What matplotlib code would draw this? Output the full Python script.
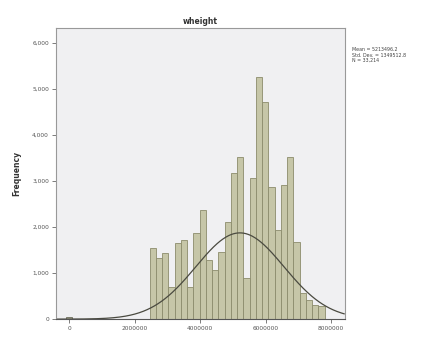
import numpy as np
import matplotlib
matplotlib.use("Agg")
import matplotlib.pyplot as plt

# ---- data ----
bin_start = 2455000.0
bin_width = 191000.0
counts = [1550, 1330, 1440, 700, 1650, 1720, 700, 1870, 2380, 1290,
          1070, 1460, 2110, 3180, 3530, 900, 3070, 5270, 4730, 2880,
          1940, 2920, 3530, 1680, 570, 410, 300, 280]
zero_count = 40
curve_mean = 5213496.2
curve_sd = 1349512.8
curve_n = 33214
x_ticks = [0, 2000000, 4000000, 6000000, 8000000]
y_ticks = [0, 1000, 2000, 3000, 4000, 5000, 6000]
y_tick_labels = ["0", "1,000", "2,000", "3,000", "4,000", "5,000", "6,000"]
title = "wheight"
ylabel = "Frequency"
stats_text = "Mean = 5213496.2\nStd. Dev. = 1349512.8\nN = 33,214"

fig = plt.figure(figsize=(4.37, 3.37), dpi=100)
fig.patch.set_facecolor("white")
ax = fig.add_axes([0.128, 0.053, 0.661, 0.864])
ax.set_facecolor("#f0f0f2")

lefts = bin_start + bin_width * np.arange(len(counts))
ax.bar(lefts, counts, width=bin_width, align="edge",
       color="#c6c6a8", edgecolor="#8c8c6c", linewidth=0.6)
ax.bar([-bin_width / 2], [zero_count], width=bin_width, align="edge",
       color="#c6c6a8", edgecolor="#6c6c5c", linewidth=0.6)

xs = np.linspace(-400000, 8400000, 400)
ys = curve_n * bin_width / (curve_sd * np.sqrt(2 * np.pi)) * np.exp(-0.5 * ((xs - curve_mean) / curve_sd) ** 2)
ax.plot(xs, ys, color="#4a4a40", linewidth=0.9)

ax.set_xlim(-410000, 8420000)
ax.set_ylim(0, 6330)
ax.set_xticks(x_ticks)
ax.set_xticklabels([str(t) for t in x_ticks], fontsize=4.2, color="#555555")
ax.set_yticks(y_ticks)
ax.set_yticklabels(y_tick_labels, fontsize=4.2, color="#555555")
ax.tick_params(axis="both", length=3, width=0.6, color="#666666", pad=2)
for s in ax.spines.values():
    s.set_color("#999999")
    s.set_linewidth(0.8)
ax.spines["bottom"].set_color("#555555")

ax.set_title(title, fontsize=5.5, fontweight="bold", color="#333333", pad=3)
ax.set_ylabel(ylabel, fontsize=5.5, fontweight="bold", color="#333333", labelpad=8)

fig.text(0.805, 0.86, stats_text, fontsize=3.4, color="#444444",
         va="top", ha="left", linespacing=1.1)

fig.savefig("out.png", dpi=100)
